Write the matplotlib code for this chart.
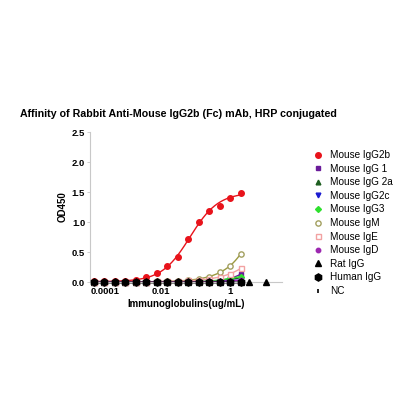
import numpy as np
import matplotlib
matplotlib.use("Agg")
import matplotlib.pyplot as plt
from matplotlib.ticker import FixedLocator, NullLocator

plt.rcParams['font.family'] = ['Liberation Sans', 'DejaVu Sans']

# concentrations (ug/mL), 2-fold dilution from 2
conc = [2.0 / 2 ** k for k in range(14, -1, -1)]

igg2b = [0.01, 0.01, 0.01, 0.01, 0.03, 0.08, 0.145, 0.27, 0.42, 0.72, 1.00, 1.19, 1.27, 1.40, 1.49]
igg1  = [0, 0, 0, 0, 0, 0, 0, 0, 0, 0, 0.01, 0.01, 0.03, 0.06, 0.13]
igg2a = [0, 0, 0, 0, 0, 0, 0, 0, 0, 0, 0, 0.01, 0.02, 0.04, 0.07]
igg2c = [0, 0, 0, 0, 0, 0, 0, 0, 0, 0, 0, 0, 0.01, 0.02, 0.03]
igg3  = [0, 0, 0, 0, 0, 0, 0, 0, 0, 0, 0.01, 0.02, 0.03, 0.06, 0.09]
igm   = [0, 0, 0, 0, 0, 0, 0.01, 0.01, 0.02, 0.03, 0.05, 0.09, 0.16, 0.27, 0.47]
ige   = [0, 0, 0, 0, 0, 0, 0.01, 0.01, 0.02, 0.03, 0.04, 0.05, 0.08, 0.13, 0.23]
igd   = [0, 0, 0, 0, 0, 0, 0, 0, 0, 0, 0, 0.01, 0.01, 0.02, 0.03]
rat_x = conc + [3.5, 11.0]
rat   = [0] * 17
human = [0] * 15
nc    = [0] * 15

labels = ["Mouse IgG2b", "Mouse IgG 1", "Mouse IgG 2a", "Mouse IgG2c", "Mouse IgG3",
          "Mouse IgM", "Mouse IgE", "Mouse IgD", "Rat IgG", "Human IgG", "NC"]


def fit4pl(x, y):
    lx = np.log10(np.asarray(x, float))
    y = np.asarray(y, float)
    best = None
    for c in np.linspace(lx.min() - 1, lx.max() + 2, 120):
        for h in np.linspace(0.4, 3.0, 40):
            s = 1.0 / (1.0 + 10 ** ((c - lx) * h))
            A = np.vstack([np.ones_like(s), s]).T
            coef, *_ = np.linalg.lstsq(A, y, rcond=None)
            r = np.sum((A @ coef - y) ** 2)
            if best is None or r < best[0]:
                best = (r, c, h, coef)
    _, c, h, coef = best
    xs = np.logspace(lx.min(), lx.max(), 200)
    s = 1.0 / (1.0 + 10 ** ((c - np.log10(xs)) * h))
    return xs, coef[0] + coef[1] * s


fig = plt.figure(figsize=(4, 4), dpi=100)
ax = fig.add_axes([0.225, 0.295, 0.48, 0.375])

series = [
    (conc, igg2b, dict(marker='o', color='#e8131b', mfc='#e8131b', ms=4.0), 5),
    (conc, igg1,  dict(marker='s', color='#6a1b9a', mfc='#6a1b9a', ms=3.4), 4),
    (conc, igg2a, dict(marker='^', color='#1d5e20', mfc='#1d5e20', ms=3.4), 4),
    (conc, igg2c, dict(marker='v', color='#1a1ad0', mfc='#1a1ad0', ms=3.4), 4),
    (conc, igg3,  dict(marker='D', color='#2ee02e', mfc='#2ee02e', ms=3.0), 4),
    (conc, igm,   dict(marker='o', color='#a3a060', mfc='white', ms=3.8, mew=1.0), 4),
    (conc, ige,   dict(marker='s', color='#f2a2a2', mfc='white', ms=3.6, mew=1.0), 4),
    (conc, igd,   dict(marker='o', color='#9c27b0', mfc='#9c27b0', ms=3.2), 4),
    (rat_x, rat,  dict(marker='^', color='black', mfc='black', ms=5.0), 3),
    (conc, human, dict(marker='h', color='black', mfc='black', ms=5.2), 6),
    (conc, nc,    dict(marker='|', color='black', mfc='black', ms=3.0, mew=1.2), 6),
]
line_colors = ['#e8131b', '#6a1b9a', '#1d5e20', '#1a1ad0', '#2ee02e', '#9c9a40',
               '#f2a2a2', '#9c27b0', 'black', 'black', 'black']

handles = []
for (x, y, st, z), lc, lab in zip(series, line_colors, labels):
    if lab == "Rat IgG":
        xf, yf = fit4pl(conc, y[:15])
    else:
        xf, yf = fit4pl(x, y)
    ax.plot(xf, yf, color=lc, lw=1.0, zorder=2, clip_on=False)
    h, = ax.plot(x, y, ls='none', zorder=z, clip_on=False, mec=st['color'], **st)
    handles.append(h)

ax.set_xscale('log')
ax.set_xlim(0.0000935, 31)
ax.set_ylim(0, 2.5)
ax.xaxis.set_major_locator(FixedLocator([0.0001, 0.01, 1]))
ax.xaxis.set_minor_locator(NullLocator())
ax.set_xticklabels(["0.0001", "0.01", "1"])
ax.set_yticks([0, 0.5, 1.0, 1.5, 2.0, 2.5])
ax.set_yticklabels(["0.0", "0.5", "1.0", "1.5", "2.0", "2.5"])
for lbl in ax.get_xticklabels() + ax.get_yticklabels():
    lbl.set_fontweight('bold')
    lbl.set_fontsize(6.8)
ax.get_xticklabels()[0].set_horizontalalignment('left')
for sp in ['top', 'right']:
    ax.spines[sp].set_visible(False)
for sp in ['left', 'bottom']:
    ax.spines[sp].set_color('#c8c8c8')
    ax.spines[sp].set_linewidth(0.8)
ax.tick_params(axis='both', colors='#c8c8c8', labelcolor='black', length=2, width=0.6, pad=1.5)
ax.set_xlabel("Immunoglobulins(ug/mL)", fontsize=7.0, fontweight='bold', labelpad=2)
ax.set_ylabel("OD450", fontsize=7.0, fontweight='bold', labelpad=3)

fig.text(0.05, 0.715, "Affinity of Rabbit Anti-Mouse IgG2b (Fc) mAb, HRP conjugated",
         fontsize=7.7, fontweight='bold', ha='left', va='center')

fig.legend(handles, labels, loc='upper left', bbox_to_anchor=(0.782, 0.625),
           frameon=False, fontsize=7.2, handlelength=1.0, handletextpad=0.7,
           labelspacing=0.36, borderaxespad=0, borderpad=0)

fig.savefig("out.png", dpi=100)
